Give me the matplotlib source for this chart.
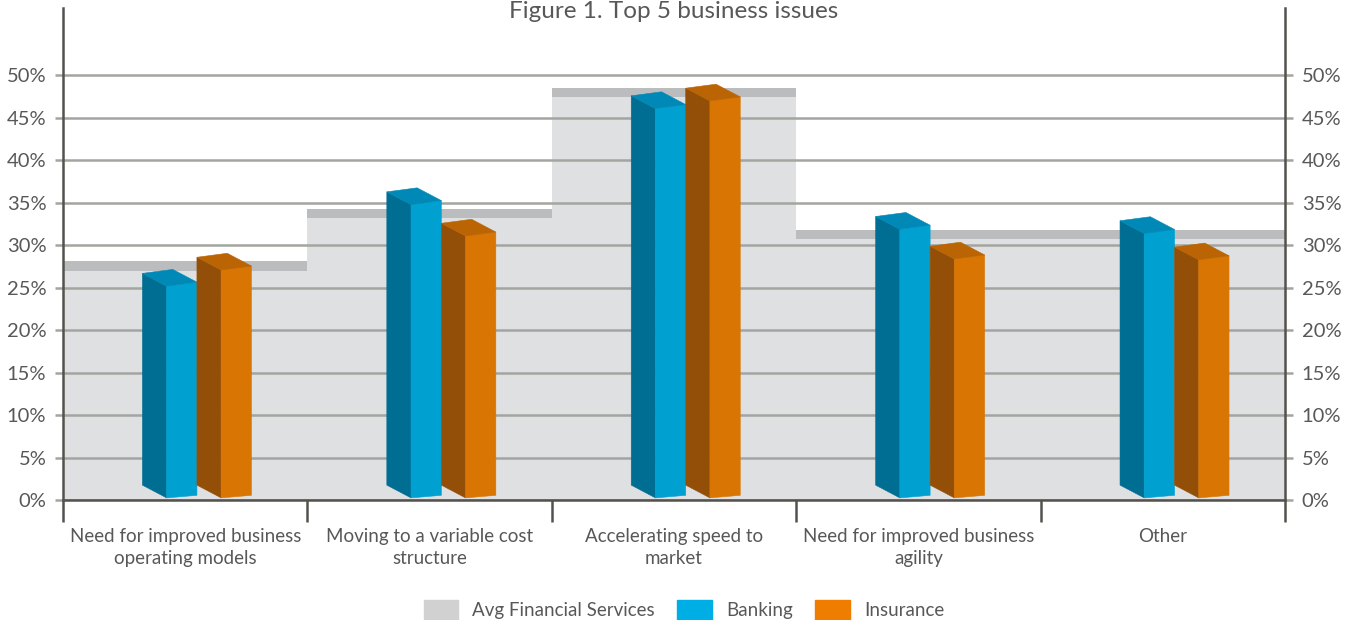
import matplotlib
matplotlib.use('Agg')
import matplotlib.pyplot as plt
from matplotlib.patches import Polygon, Patch

plt.rcParams['font.family'] = ['Lato', 'DejaVu Sans']

categories = ['Need for improved business\noperating models',
              'Moving to a variable cost\nstructure',
              'Accelerating speed to\nmarket',
              'Need for improved business\nagility',
              'Other']
avg_fs = [27.0, 33.2, 47.4, 30.7, 30.7]
banking = [25.4, 35.0, 46.3, 32.1, 31.6]
insurance = [27.3, 31.3, 47.2, 28.6, 28.5]
yticks = [0, 5, 10, 15, 20, 25, 30, 35, 40, 45, 50]
series_names = ['Avg Financial Services', 'Banking', 'Insurance']

txt = '#58585a'
axis_dark = '#55524d'
grid_col = '#a4a4a0'

# 3d look: front / side / top colours
blue = ('#00a0d1', '#006e92', '#0089b6')
orange = ('#d97502', '#934f08', '#ba6404')


def bar3d(ax, x0, v, cols, w=0.124, dx=0.099, dy=1.5, tilt=0.235):
    front, side, top = cols
    fl = [(x0, 0.25), (x0 + w, 0.55), (x0 + w, v + tilt), (x0, v - tilt)]
    sd = [(x0 - dx, 0.25 + dy), (x0, 0.25), (x0, v - tilt), (x0 - dx, v - tilt + dy)]
    tp = [(x0, v - tilt), (x0 + w, v + tilt), (x0 + w - dx, v + tilt + dy),
          (x0 - dx, v - tilt + dy)]
    for pts, c in ((sd, side), (fl, front), (tp, top)):
        ax.add_patch(Polygon(pts, closed=True, facecolor=c, edgecolor=c,
                             linewidth=0.4, zorder=3))


fig = plt.figure(figsize=(13.61, 6.2), dpi=100)
ax = fig.add_axes([63 / 1361, 120 / 620, 1222 / 1361, 492 / 620])

x = range(len(categories))
ax.bar(x, avg_fs, width=1.0, color='#dfe0e2', zorder=1)
ax.bar(x, [1.1] * len(avg_fs), bottom=avg_fs, width=1.0, color='#bbbcbe', zorder=1)

for i in x:
    bar3d(ax, i - 0.076, banking[i], blue)
    bar3d(ax, i + 0.147, insurance[i], orange)

ax.set_xlim(-0.5, len(categories) - 0.5)
ax.set_ylim(0, 57.9)

ax.set_yticks(yticks)
ax.set_yticklabels([f'{t}%' for t in yticks])
ax.yaxis.grid(True, color=grid_col, linewidth=1.8)
ax.set_axisbelow('line')
ax.tick_params(axis='y', length=6, width=1.8, color=grid_col, labelsize=14.5,
               labelcolor=txt, pad=6, right=True, labelright=True)

ax.set_xticks(list(x))
ax.set_xticklabels(categories, linespacing=1.34)
ax.set_xticks([i - 0.5 for i in range(len(categories) + 1)], minor=True)
ax.tick_params(axis='x', which='major', length=0, labelsize=13.5,
               labelcolor=txt, pad=20)
ax.tick_params(axis='x', which='minor', length=16, width=1.8, color=axis_dark,
               direction='out')

ax.spines['top'].set_visible(False)
for s in ('left', 'right', 'bottom'):
    ax.spines[s].set_color(axis_dark)
    ax.spines[s].set_linewidth(1.8)

fig.text(674 / 1361, 1 - 18 / 620, 'Figure 1. Top 5 business issues',
         ha='center', va='baseline', fontsize=17.5, color=txt)

handles = [Patch(color='#d1d1d1'), Patch(color='#00aee6'), Patch(color='#ef7d00')]
fig.legend(handles, series_names, loc='center', ncol=3,
           bbox_to_anchor=(684 / 1361, 1 - 610 / 620), frameon=False,
           fontsize=13.5, labelcolor=txt, handlelength=1.85, handleheight=1.25,
           handletextpad=0.75, columnspacing=1.2)

fig.savefig('out.png', dpi=100)
